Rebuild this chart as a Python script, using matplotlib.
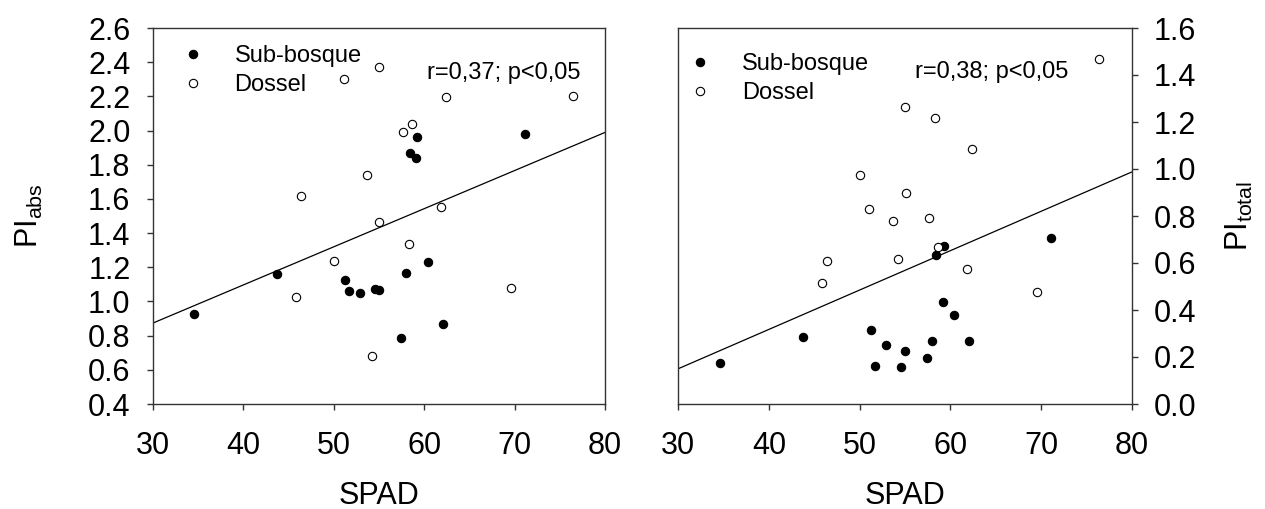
import matplotlib
matplotlib.use("Agg")
import matplotlib.pyplot as plt
import numpy as np

plt.rcParams['font.family'] = ['Liberation Sans', 'DejaVu Sans']
plt.rcParams['mathtext.fontset'] = 'custom'
plt.rcParams['mathtext.rm'] = 'Liberation Sans'
plt.rcParams['mathtext.it'] = 'Liberation Sans:italic'

# ---- data: left panel (PI_abs) ----
sub_spad_L = [34.6, 43.7, 51.26, 51.67, 52.92, 54.58, 55.02, 57.45, 57.97, 58.41, 59.15, 59.26, 60.47, 62.13, 71.19]
sub_pi_abs = [0.928, 1.161, 1.128, 1.060, 1.050, 1.072, 1.066, 0.785, 1.169, 1.866, 1.837, 1.960, 1.233, 0.871, 1.981]
dos_spad_L = [45.81, 46.36, 50.04, 51.11, 53.65, 54.21, 54.98, 55.06, 57.63, 58.33, 58.63, 61.83, 62.39, 69.57, 76.46]
dos_pi_abs = [1.027, 1.617, 1.235, 2.302, 1.738, 0.682, 2.374, 1.463, 1.989, 1.335, 2.041, 1.553, 2.199, 1.080, 2.205]
fit_L = (0.2034, 0.02232)  # intercept, slope
text_L = "r=0,37; p<0,05"

# ---- data: right panel (PI_total) ----
sub_spad_R = [34.63, 43.71, 51.21, 51.73, 52.94, 54.60, 55.00, 57.43, 57.98, 58.42, 59.15, 59.26, 60.40, 62.10, 71.14]
sub_pi_total = [0.176, 0.286, 0.317, 0.163, 0.249, 0.159, 0.225, 0.197, 0.266, 0.633, 0.433, 0.673, 0.378, 0.270, 0.708]
dos_spad_R = [45.85, 46.40, 50.07, 51.07, 53.68, 54.19, 55.00, 55.07, 57.65, 58.35, 58.60, 61.84, 62.35, 69.52, 76.43]
dos_pi_total = [0.514, 0.609, 0.973, 0.830, 0.779, 0.619, 1.262, 0.896, 0.790, 1.218, 0.668, 0.573, 1.085, 0.476, 1.468]
fit_R = (-0.352, 0.01674)
text_R = "r=0,38; p<0,05"

x_ticks = [30, 40, 50, 60, 70, 80]
yticks_L = [0.4, 0.6, 0.8, 1.0, 1.2, 1.4, 1.6, 1.8, 2.0, 2.2, 2.4, 2.6]
yticks_R = [0.0, 0.2, 0.4, 0.6, 0.8, 1.0, 1.2, 1.4, 1.6]

W, H = 1265, 509
fig = plt.figure(figsize=(W / 100, H / 100), dpi=100)
axL = fig.add_axes([152.7 / W, 1 - 404 / H, (605 - 152.7) / W, (404 - 28) / H])
axR = fig.add_axes([678.3 / W, 1 - 404 / H, (1131.7 - 678.3) / W, (404 - 28) / H])

TICK_FS = 22
LAB_FS = 22
SMALL_FS = 17
spine_col = '#333333'
ms = 6.0

def style(ax):
    for s in ax.spines.values():
        s.set_color(spine_col)
        s.set_linewidth(1.0)
    ax.tick_params(direction='out', length=4, width=1, color=spine_col,
                   labelsize=TICK_FS, pad=12)
    ax.tick_params(axis='x', pad=15.5)
    ax.set_xlim(30, 80)
    ax.set_xticks(x_ticks)
    ax.set_xticklabels([str(v) for v in x_ticks])
    ax.set_xlabel('SPAD', fontsize=LAB_FS, labelpad=14)

def draw(ax, xs, ys, xo, yo, fit):
    xx = np.array([30.0, 80.0])
    ax.plot(xx, fit[0] + fit[1] * xx, color='black', lw=0.9, zorder=2)
    ax.plot(xs, ys, 'o', ms=ms, mfc='black', mec='black', mew=0.8, ls='none',
            label='Sub-bosque', zorder=3)
    ax.plot(xo, yo, 'o', ms=ms, mfc='white', mec='black', mew=0.8, ls='none',
            label='Dossel', zorder=3)

leg_kw = dict(loc='upper left', frameon=False, fontsize=SMALL_FS, handlelength=1.0,
              handletextpad=1.25, labelspacing=0.29, borderpad=0, borderaxespad=0)

# Left
draw(axL, sub_spad_L, sub_pi_abs, dos_spad_L, dos_pi_abs, fit_L)
style(axL)
axL.set_ylim(0.4, 2.6)
axL.set_yticks(yticks_L)
axL.set_yticklabels([f"{v:.1f}" for v in yticks_L])
axL.set_ylabel(r'PI$_{\mathrm{abs}}$', fontsize=LAB_FS, labelpad=31)
axL.text((426.7 - 152.7) / 452.3, 1 - (73 - 28) / 376, text_L, transform=axL.transAxes,
         fontsize=SMALL_FS, ha='left', va='center')
axL.legend(bbox_to_anchor=((193.3 - 152.7 - 12) / 452.3, 1 - (45 - 28) / 376), **leg_kw)

# Right
draw(axR, sub_spad_R, sub_pi_total, dos_spad_R, dos_pi_total, fit_R)
style(axR)
axR.set_ylim(0.0, 1.6)
axR.yaxis.tick_right()
axR.yaxis.set_label_position('right')
axR.set_yticks(yticks_R)
axR.set_yticklabels([f"{v:.1f}" for v in yticks_R])
axR.set_ylabel(r'PI$_{\mathrm{total}}$', fontsize=LAB_FS, labelpad=20)
axR.text((915 - 678.3) / 453.4, 1 - (72 - 28) / 376, text_R, transform=axR.transAxes,
         fontsize=SMALL_FS, ha='left', va='center')
axR.legend(bbox_to_anchor=((700.5 - 678.3 - 12) / 453.4, 1 - (53 - 28) / 376), **leg_kw)

fig.savefig('out.png', dpi=100, facecolor='white')
